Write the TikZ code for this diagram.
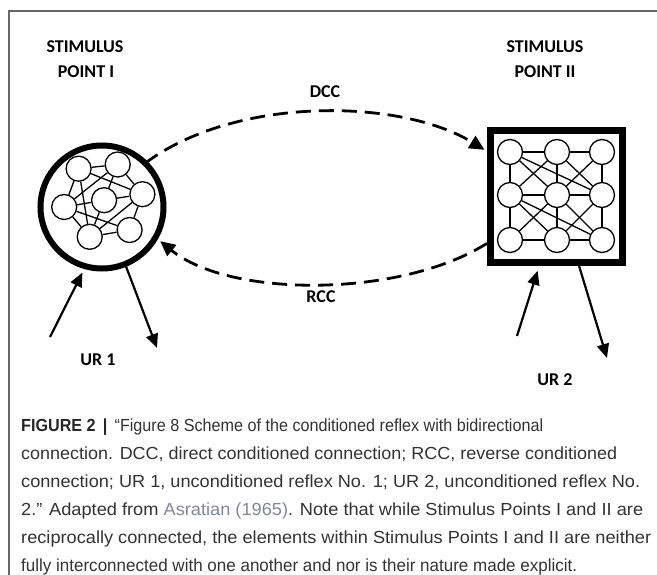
\documentclass[tikz,border=0pt]{standalone}
\usepackage{fontspec}
\usepackage{graphicx}
\setmainfont{Liberation Sans}
\newfontfamily\lblfont{Carlito}
\usetikzlibrary{arrows.meta,calc}
\definecolor{framec}{gray}{0.4}
\definecolor{captxt}{HTML}{333333}
\definecolor{linkc}{HTML}{7D8A94}
\newcommand{\fitline}[2]{\resizebox{#1}{\height}{#2}}
\begin{document}
\begin{tikzpicture}[x=1pt,y=-1pt]
\tikzset{
 lbl/.style={font=\lblfont\bfseries\fontsize{18}{21}\selectfont, inner sep=0},
 nd/.style={circle, draw, line width=1.3pt, minimum size=25pt, inner sep=0, fill=white},
 lk/.style={line width=1.3pt},
 dasharrow/.style={line width=2.8pt, dash pattern=on 15pt off 8pt, -{Triangle[length=15pt,width=14pt]}},
 solidarrow/.style={line width=2.2pt, -{Triangle[length=14pt,width=12pt]}},
 captext/.style={anchor=base west, inner sep=0, font=\fontsize{17.5}{20}\selectfont, text=captxt},
}
\useasboundingbox (0,0) rectangle (657,575);
\draw[framec, line width=1.2pt] (9,575) -- (9,11) -- (657,11);

% stimulus point I
\node[circle, draw, line width=6pt, minimum size=123pt, inner sep=0] (P1) at (102,207) {};
\node[nd] (a) at (78.6,168.7) {};
\node[nd] (b) at (117.7,164.5) {};
\node[nd] (c) at (142.4,194.2) {};
\node[nd] (d) at (104.1,200.2) {};
\node[nd] (e) at (64.2,207) {};
\node[nd] (f) at (89.7,236.8) {};
\node[nd] (g) at (129.6,230) {};
\foreach \u/\v in {a/b,b/c,c/g,g/f,f/e,e/a,a/c,b/e,a/f,c/f,e/g,d/b,d/c,d/f,d/e}
  \draw[lk] (\u) -- (\v);

% stimulus point II
\node[rectangle, draw, line width=7pt, minimum size=132pt, inner sep=0] (P2) at (556.5,196.5) {};
\node[nd] (s11) at (510,152) {};
\node[nd] (s12) at (557,152) {};
\node[nd] (s13) at (602,152) {};
\node[nd] (s21) at (510,195) {};
\node[nd] (s22) at (557,195) {};
\node[nd] (s23) at (602,195) {};
\node[nd] (s31) at (510,240) {};
\node[nd] (s32) at (557,240) {};
\node[nd] (s33) at (602,240) {};
\foreach \u/\v in {s11/s12,s12/s13,s21/s22,s22/s23,s31/s32,s32/s33,
  s11/s21,s21/s31,s12/s22,s22/s32,s13/s23,s23/s33,
  s11/s22,s12/s21,s11/s23,s12/s23,s13/s22,
  s21/s32,s22/s31,s21/s33,s22/s33,s23/s32}
  \draw[lk] (\u) -- (\v);

% labels
\node[lbl] (st1) at (85,47) {STIMULUS};
\node[lbl] (pt1) at (86,72) {POINT I};
\node[lbl] (st2) at (545,47) {STIMULUS};
\node[lbl] (pt2) at (545,72) {POINT II};
\node[lbl] (dcc) at (325,92) {DCC};
\node[lbl] (rcc) at (321,297) {RCC};
\node[lbl] (ur1) at (98,360) {UR 1};
\node[lbl] (ur2) at (555,380) {UR 2};

% connections
\draw[dasharrow, shorten >=3pt, shorten <=-3pt] (P1.45) .. controls (235,96) and (400,98) .. (P2.147);
\draw[dasharrow, shorten >=3pt] (P2.214) .. controls (400,298) and (230,298) .. (P1.-30);

\coordinate (u1in) at (50,337);
\coordinate (u1out) at (157,348);
\coordinate (u2in) at (517,336);
\coordinate (u2out) at (607,358);
\draw[solidarrow, shorten >=4pt] (u1in) -- (P1.-106);
\draw[solidarrow] (P1.-68) -- (u1out);
\draw[solidarrow, shorten >=5pt] (u2in) -- (P2.-104);
\draw[solidarrow] (P2.-72) -- (u2out);

% caption
\node[captext] (c1) at (21,431) {\fitline{522pt}{\textbf{\color{black!85}FIGURE 2\, |}\, “Figure 8 Scheme of the conditioned reflex with bidirectional}};
\node[captext] (c2) at (21,459) {\fitline{596pt}{connection. DCC, direct conditioned connection; RCC, reverse conditioned}};
\node[captext] (c3) at (21,487) {\fitline{619pt}{connection; UR 1, unconditioned reflex No. 1; UR 2, unconditioned reflex No.}};
\node[captext] (c4) at (21,515) {\fitline{622pt}{2.” Adapted from {\color{linkc}Asratian (1965)}. Note that while Stimulus Points I and II are}};
\node[captext] (c5) at (21,543) {\fitline{630pt}{reciprocally connected, the elements within Stimulus Points I and II are neither}};
\node[captext] (c6) at (21,571) {\fitline{556pt}{fully interconnected with one another and nor is their nature made explicit.}};
\end{tikzpicture}
\end{document}
